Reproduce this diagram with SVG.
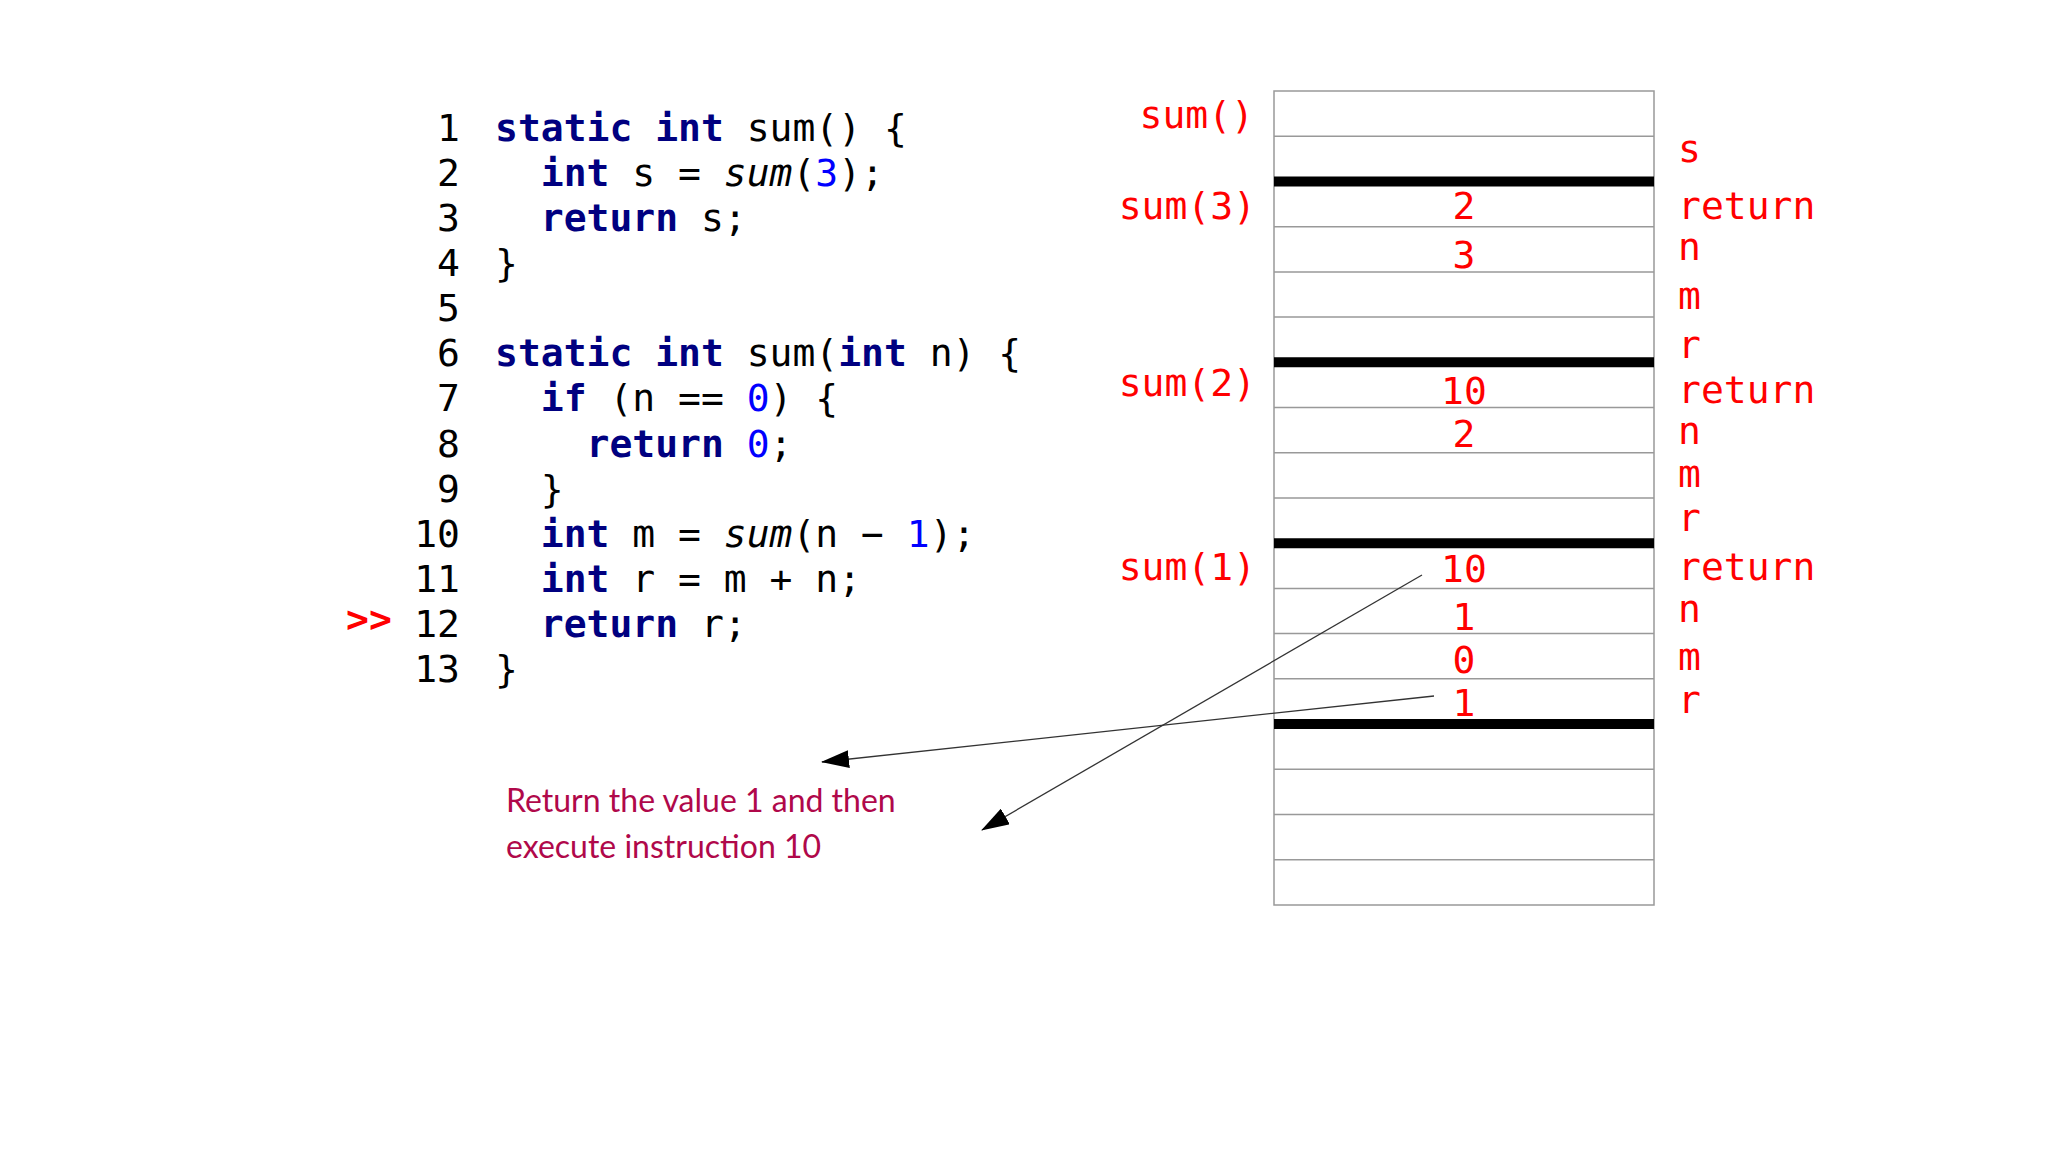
<svg xmlns="http://www.w3.org/2000/svg" width="2048" height="1152" viewBox="0 0 2048 1152">
<style>
.c{font-family:"DejaVu Sans Mono",monospace;font-size:38px;fill:#000}
.k{font-weight:bold;fill:#000080}
.n{fill:#0000ff}
.i{font-style:italic}
.r{font-family:"DejaVu Sans Mono",monospace;font-size:38px;fill:#ff0000}
.thin{stroke:#999;stroke-width:1.5}
.thick{stroke:#000;stroke-width:10}
.ann{font-family:Lato,sans-serif;font-size:32px;fill:#b0084a}
</style>
<defs><marker id="ah" markerWidth="12" markerHeight="10" refX="11" refY="5" orient="auto" markerUnits="userSpaceOnUse" viewBox="0 0 12 10"><path d="M0,0 L12,5 L0,10 z" fill="#000"/></marker>
<marker id="ah2" markerWidth="28" markerHeight="18" refX="27" refY="9" orient="auto" markerUnits="userSpaceOnUse" viewBox="0 0 28 18"><path d="M0,0 L28,9 L0,18 z" fill="#000"/></marker></defs>
<g id="code" class="c">
<g text-anchor="end">
<text x="460" y="141">1</text><text x="460" y="186">2</text><text x="460" y="231">3</text><text x="460" y="276">4</text><text x="460" y="321">5</text><text x="460" y="366">6</text><text x="460" y="411">7</text><text x="460" y="457">8</text><text x="460" y="502">9</text><text x="460" y="547">10</text><text x="460" y="592">11</text><text x="460" y="637">12</text><text x="460" y="682">13</text>
</g>
<text x="495" y="141" xml:space="preserve"><tspan class="k">static int</tspan> sum() {</text>
<text x="495" y="186" xml:space="preserve">  <tspan class="k">int</tspan> s = <tspan class="i">sum</tspan>(<tspan class="n">3</tspan>);</text>
<text x="495" y="231" xml:space="preserve">  <tspan class="k">return</tspan> s;</text>
<text x="495" y="276">}</text>
<text x="495" y="366" xml:space="preserve"><tspan class="k">static int</tspan> sum(<tspan class="k">int</tspan> n) {</text>
<text x="495" y="411" xml:space="preserve">  <tspan class="k">if</tspan> (n == <tspan class="n">0</tspan>) {</text>
<text x="495" y="457" xml:space="preserve">    <tspan class="k">return</tspan> <tspan class="n">0</tspan>;</text>
<text x="495" y="502" xml:space="preserve">  }</text>
<text x="495" y="547" xml:space="preserve">  <tspan class="k">int</tspan> m = <tspan class="i">sum</tspan>(n − <tspan class="n">1</tspan>);</text>
<text x="495" y="592" xml:space="preserve">  <tspan class="k">int</tspan> r = m + n;</text>
<text x="495" y="637" xml:space="preserve">  <tspan class="k">return</tspan> r;</text>
<text x="495" y="682">}</text>
<text x="346" y="632" class="r" style="font-weight:bold">&gt;&gt;</text>
</g>
<g id="stack">
<rect x="1274" y="91" width="380" height="814" fill="#fff" class="thin"/>
<g class="thin">
<line x1="1274" x2="1654" y1="136.2" y2="136.2"/><line x1="1274" x2="1654" y1="226.7" y2="226.7"/><line x1="1274" x2="1654" y1="271.9" y2="271.9"/><line x1="1274" x2="1654" y1="317.1" y2="317.1"/>
<line x1="1274" x2="1654" y1="407.5" y2="407.5"/><line x1="1274" x2="1654" y1="452.8" y2="452.8"/><line x1="1274" x2="1654" y1="498" y2="498"/>
<line x1="1274" x2="1654" y1="588.4" y2="588.4"/><line x1="1274" x2="1654" y1="633.6" y2="633.6"/><line x1="1274" x2="1654" y1="678.8" y2="678.8"/>
<line x1="1274" x2="1654" y1="769.3" y2="769.3"/><line x1="1274" x2="1654" y1="814.5" y2="814.5"/><line x1="1274" x2="1654" y1="859.7" y2="859.7"/>
</g>
<g class="thick">
<line x1="1274" x2="1654" y1="181.4" y2="181.4"/><line x1="1274" x2="1654" y1="362.3" y2="362.3"/><line x1="1274" x2="1654" y1="543.2" y2="543.2"/><line x1="1274" x2="1654" y1="724.1" y2="724.1"/>
</g>
<g class="r" text-anchor="middle">
<text x="1464" y="219">2</text><text x="1464" y="268">3</text><text x="1464" y="404">10</text><text x="1464" y="447">2</text><text x="1464" y="582">10</text><text x="1464" y="630">1</text><text x="1464" y="673">0</text><text x="1464" y="716">1</text>
</g>
<g class="r" text-anchor="end">
<text x="1254" y="128">sum()</text><text x="1256" y="219">sum(3)</text><text x="1256" y="396">sum(2)</text><text x="1256" y="580">sum(1)</text>
</g>
<g class="r">
<text x="1678" y="162">s</text><text x="1678" y="219">return</text><text x="1678" y="260">n</text><text x="1678" y="309">m</text><text x="1678" y="358">r</text>
<text x="1678" y="403">return</text><text x="1678" y="444">n</text><text x="1678" y="487">m</text><text x="1678" y="531">r</text>
<text x="1678" y="580">return</text><text x="1678" y="622">n</text><text x="1678" y="670">m</text><text x="1678" y="713">r</text>
</g>
</g>
<g id="connectors" stroke="#333" stroke-width="1.3" fill="none">
<line x1="1422" y1="575" x2="982" y2="830" marker-end="url(#ah2)"/>
<line x1="1434" y1="696" x2="822" y2="762" marker-end="url(#ah2)"/>
</g>
<g id="note" class="ann">
<text x="506" y="812">Return the value 1 and then</text>
<text x="506" y="858">execute instruction 10</text>
</g>
</svg>
